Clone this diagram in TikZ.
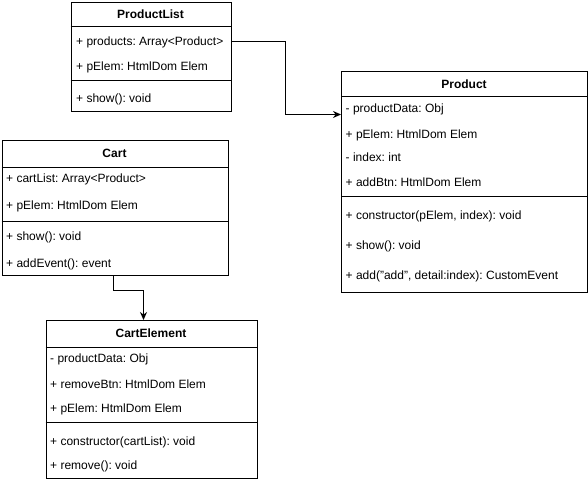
\documentclass[tikz,border=0pt]{standalone}
\usepackage{fontspec}
\setmainfont{Liberation Sans}
\usetikzlibrary{arrows.meta}
\begin{document}
\frenchspacing
\begin{tikzpicture}[x=1pt,y=-1pt,
  umlbox/.style={draw=black, line width=1pt, fill=white, anchor=north west, inner sep=0pt},
  rule/.style={draw=black, line width=1pt},
  title/.style={font=\fontsize{12}{14}\selectfont\bfseries, anchor=base, inner sep=0pt},
  member/.style={font=\fontsize{12}{14}\selectfont, anchor=base west, inner sep=0pt},
  link/.style={draw=black, line width=1pt, -{Stealth[length=8pt,width=7pt]}}]
\useasboundingbox (0,0) rectangle (588,482);

% ProductList
\node[umlbox, minimum width=160pt, minimum height=109pt] (pl) at (70.5,1.5) {};
\draw[rule] (70.5,26) -- (230.5,26);
\draw[rule] (70.5,80) -- (230.5,80);
\node[title] (pltitle) at (150.5,18.5) {ProductList};
\node[member] (plprod) at (76,45.8) {+ products: Array<Product>};
\node[member] (plelem) at (76,70) {+ pElem: HtmlDom Elem};
\node[member] (plshow) at (76,102.3) {+ show(): void};

% Product
\node[umlbox, minimum width=246pt, minimum height=221pt] (pr) at (341,71) {};
\draw[rule] (341,96.5) -- (587,96.5);
\draw[rule] (341,196) -- (587,196);
\node[title] (prtitle) at (464,88.3) {Product};
\node[member] (prdata) at (345.5,112.5) {- productData: Obj};
\node[member] (prelem) at (345.5,138.3) {+ pElem: HtmlDom Elem};
\node[member] (prindex) at (345.5,161.8) {- index: int};
\node[member] (prbtn) at (345.5,186) {+ addBtn: HtmlDom Elem};
\node[member] (prctor) at (345.5,219) {+ constructor(pElem, index): void};
\node[member] (prshow) at (345.5,249) {+ show(): void};
\node[member] (pradd) at (345.5,279) {+ add("add", detail:index): CustomEvent};

% Cart
\node[umlbox, minimum width=226pt, minimum height=135pt] (ca) at (1.5,140) {};
\draw[rule] (1.5,167.5) -- (227.5,167.5);
\draw[rule] (1.5,221) -- (227.5,221);
\node[title] (catitle) at (114.5,157.5) {Cart};
\node[member] (calist) at (6,182.5) {+ cartList: Array<Product>};
\node[member] (caelem) at (6,209) {+ pElem: HtmlDom Elem};
\node[member] (cashow) at (6,240.8) {+ show(): void};
\node[member] (caevent) at (6,267.3) {+ addEvent(): event};

% CartElement
\node[umlbox, minimum width=211pt, minimum height=158pt] (ce) at (45.5,320) {};
\draw[rule] (45.5,347) -- (256.5,347);
\draw[rule] (45.5,422.5) -- (256.5,422.5);
\node[title] (cetitle) at (151,337.5) {CartElement};
\node[member] (cedata) at (50,362.5) {- productData: Obj};
\node[member] (cebtn) at (50,388) {+ removeBtn: HtmlDom Elem};
\node[member] (ceelem) at (50,412.3) {+ pElem: HtmlDom Elem};
\node[member] (cector) at (50,445) {+ constructor(cartList): void};
\node[member] (ceremove) at (50,469.8) {+ remove(): void};

% connectors
\coordinate (plout) at (pl.east |- 0,41.5);
\coordinate (bend) at (285.5,0);
\coordinate (prin) at (pr.west |- 0,114.5);
\draw[link] (plout) -| (bend |- prin) -- (prin);

\coordinate (caout) at (113.5,275);
\coordinate (cein) at (143.5,320);
\draw[link] (caout) -- ++(0,15) -| (cein);
\end{tikzpicture}
\end{document}
